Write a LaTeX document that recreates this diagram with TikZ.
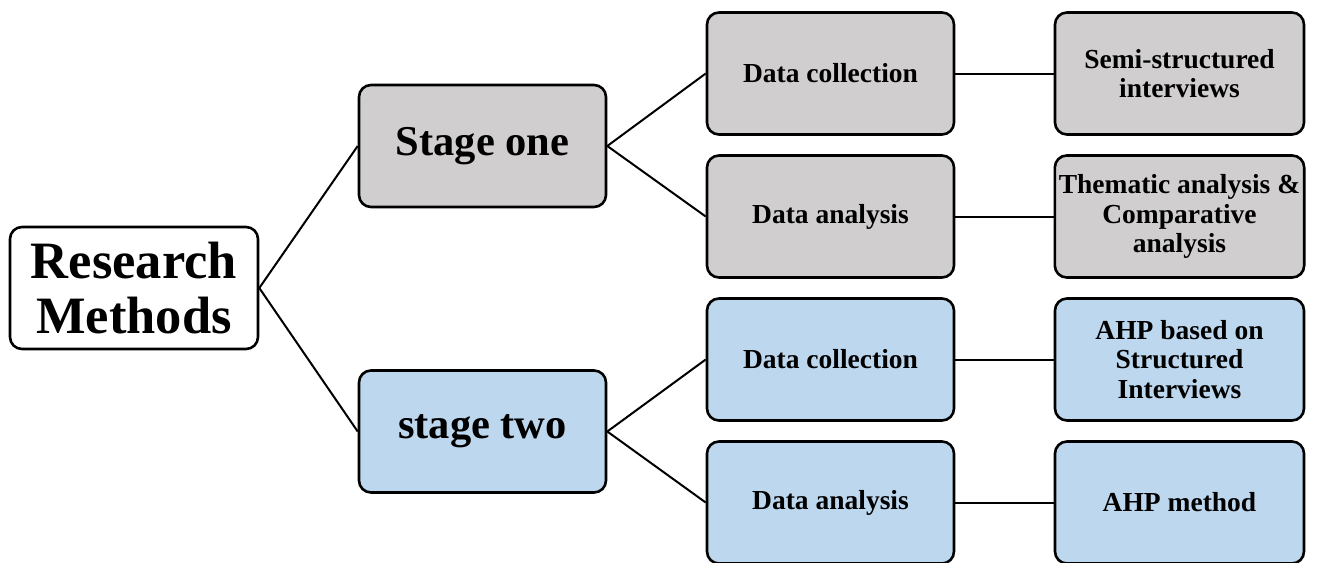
\documentclass[tikz,border=0pt]{standalone}
\usepackage{fontspec}
\setmainfont{Liberation Serif}
\definecolor{stagegray}{HTML}{D0CECE}
\definecolor{stageblue}{HTML}{BDD7EE}
\tikzset{
  box/.style={draw=black, line width=2.6pt, rounded corners=12pt, align=center,
    inner sep=4pt, font=\bfseries},
  rootbox/.style={box, fill=white, minimum width=248pt, minimum height=122pt,
    font=\fontsize{52.5}{55}\selectfont\bfseries},
  stagebox/.style={box, minimum width=247pt, minimum height=122pt,
    font=\fontsize{42.5}{46}\selectfont\bfseries},
  leafbox/.style={box, minimum width=247pt, minimum height=122pt,
    font=\fontsize{27.5}{29.5}\selectfont\bfseries},
  wide/.style={minimum width=249pt},
  link/.style={line width=2pt, draw=black}
}
\begin{document}
\begin{tikzpicture}[x=1pt, y=-1pt]
  \useasboundingbox (0,0) rectangle (1327,562);
  \begin{scope}
    \clip (0,0) rectangle (1327,562);
    % root
    \node[rootbox] (root) at (134,288) {Research\\Methods};
    % stages
    \node[stagebox, fill=stagegray] (s1) at (482.5,146) {Stage one};
    \node[stagebox, fill=stageblue] (s2) at (482.5,431.5) {stage two};
    % stage one branches
    \node[leafbox, fill=stagegray] (c1) at (830.5,73.5) {Data collection};
    \node[leafbox, fill=stagegray] (a1) at (830.5,216.5) {Data analysis};
    \node[leafbox, wide, fill=stagegray] (m1) at (1179.5,73.5) {Semi-structured\\interviews};
    \node[leafbox, wide, fill=stagegray] (t1) at (1179.5,216.5) {Thematic analysis \&\\Comparative\\analysis};
    % stage two branches
    \node[leafbox, fill=stageblue] (c2) at (830.5,359.5) {Data collection};
    \node[leafbox, fill=stageblue] (a2) at (830.5,502.5) {Data analysis};
    \node[leafbox, wide, fill=stageblue] (m2) at (1179.5,359.5) {AHP based on\\Structured\\Interviews};
    \node[leafbox, wide, fill=stageblue] (t2) at (1179.5,502.5) {AHP method};
    % connectors
    \draw[link] (root.east) -- (s1.west);
    \draw[link] (root.east) -- (s2.west);
    \draw[link] (s1.east) -- (c1.west);
    \draw[link] (s1.east) -- (a1.west);
    \draw[link] (s2.east) -- (c2.west);
    \draw[link] (s2.east) -- (a2.west);
    \draw[link] (c1.east) -- (m1.west);
    \draw[link] (a1.east) -- (t1.west);
    \draw[link] (c2.east) -- (m2.west);
    \draw[link] (a2.east) -- (t2.west);
  \end{scope}
\end{tikzpicture}
\end{document}
